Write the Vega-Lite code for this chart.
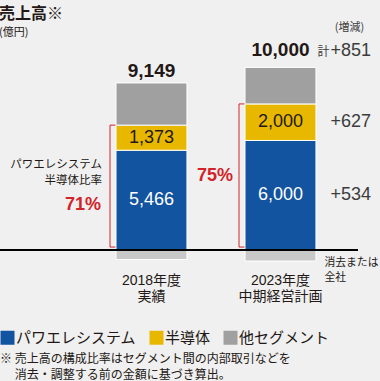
{
  "$schema": "https://vega.github.io/schema/vega-lite/v6.json",
  "width": 358,
  "height": 221,
  "autosize": {"type": "none"},
  "padding": {"left": 0, "top": 40, "right": 22, "bottom": 120},
  "background": "#f0f0f0",
  "config": {"view": {"stroke": null}, "font": "Liberation Sans, Noto Sans CJK JP"},
  "title": {
    "text": "売上高※",
    "subtitle": "(億円)",
    "anchor": "start",
    "font": "Noto Sans CJK JP",
    "fontSize": 16,
    "fontWeight": "bold",
    "color": "#231815",
    "subtitleFont": "Noto Sans CJK JP",
    "subtitleFontSize": 11,
    "subtitleColor": "#231815",
    "subtitlePadding": 5,
    "offset": -16
  },
  "datasets": {
    "segments": [
      {"cat": "2018年度 実績", "seg": "パワエレシステム", "value": 5466, "ord": 1, "label": "5,466", "delta": "", "note": ""},
      {"cat": "2018年度 実績", "seg": "半導体", "value": 1373, "ord": 2, "label": "1,373", "delta": "", "note": ""},
      {"cat": "2018年度 実績", "seg": "他セグメント", "value": 2310, "ord": 3, "label": "", "delta": "", "note": ""},
      {"cat": "2018年度 実績", "seg": "消去または全社", "value": -520, "ord": 4, "label": "", "delta": "", "note": ""},
      {"cat": "2023年度 中期経営計画", "seg": "パワエレシステム", "value": 6000, "ord": 1, "label": "6,000", "delta": "+534", "note": ""},
      {"cat": "2023年度 中期経営計画", "seg": "半導体", "value": 2000, "ord": 2, "label": "2,000", "delta": "+627", "note": ""},
      {"cat": "2023年度 中期経営計画", "seg": "他セグメント", "value": 2000, "ord": 3, "label": "", "delta": "", "note": ""},
      {"cat": "2023年度 中期経営計画", "seg": "消去または全社", "value": -600, "ord": 4, "label": "", "delta": "", "note": "消去または\n全社"}
    ],
    "totals": [
      {"cat": "2018年度 実績", "total": 9149, "label": "9,149", "delta": ""},
      {"cat": "2023年度 中期経営計画", "total": 10000, "label": "10,000", "delta": "+851"}
    ],
    "ratio": [
      {"cat": "2018年度 実績", "top": 6839, "ratio": "71%"},
      {"cat": "2023年度 中期経営計画", "top": 8000, "ratio": "75%"}
    ]
  },
  "layer": [
    {
      "data": {"name": "ratio"},
      "mark": {"type": "bar", "fill": "transparent", "stroke": "#d2232a", "strokeWidth": 1, "xOffset": -6, "y2Offset": -3},
      "encoding": {
        "x": {"field": "cat", "type": "nominal", "scale": {"paddingInner": 0.45, "paddingOuter": 0.6126, "align": 0.734}, "axis": {"title": null, "domain": false, "ticks": false, "tickSize": 0, "labelPadding": 12, "labelFontSize": 14, "labelColor": "#231815", "labelExpr": "split(datum.label, ' ')", "labelLineHeight": 16, "labelAngle": 0, "labelBaseline": "top", "labelFont": "Liberation Sans, Noto Sans CJK JP"}},
        "y": {"field": "top", "type": "quantitative", "scale": {"domain": [-600, 11500], "nice": false, "zero": false}, "axis": null},
        "y2": {"datum": 0}
      }
    },
    {
      "data": {"name": "segments"},
      "mark": {"type": "bar", "stroke": "#ffffff", "strokeWidth": 1},
      "encoding": {
        "x": {"field": "cat", "type": "nominal", "scale": {"paddingInner": 0.45, "paddingOuter": 0.6126, "align": 0.734}, "axis": {"title": null, "domain": false, "ticks": false, "tickSize": 0, "labelPadding": 12, "labelFontSize": 14, "labelColor": "#231815", "labelExpr": "split(datum.label, ' ')", "labelLineHeight": 16, "labelAngle": 0, "labelBaseline": "top", "labelFont": "Liberation Sans, Noto Sans CJK JP"}},
        "y": {"field": "value", "type": "quantitative", "stack": "zero", "scale": {"domain": [-600, 11500], "nice": false, "zero": false}, "axis": null},
        "order": {"field": "ord", "type": "quantitative"},
        "color": {
          "field": "seg",
          "type": "nominal",
          "scale": {"domain": ["パワエレシステム", "半導体", "他セグメント", "消去または全社"], "range": ["#1254a0", "#e8b800", "#a0a0a0", "#c8c8c8"]},
          "legend": {
            "values": ["パワエレシステム", "半導体", "他セグメント"],
            "title": ["※ 売上高の構成比率はセグメント間の内部取引などを", "\u200b\u3000 消去・調整する前の金額に基づき算出。"],
            "orient": "bottom",
            "direction": "horizontal",
            "titleOrient": "bottom",
            "titleAnchor": "start",
            "titleAlign": "left",
            "titleFont": "Noto Sans CJK JP",
            "titleFontSize": 12,
            "titleFontWeight": "normal",
            "titleColor": "#231815",
            "titleLineHeight": 16,
            "titlePadding": 8,
            "titleLimit": 400,
            "symbolType": "square",
            "symbolSize": 196,
            "symbolStrokeWidth": 0,
            "labelFont": "Noto Sans CJK JP",
            "labelFontSize": 15,
            "labelColor": "#231815",
            "labelOffset": 1,
            "labelLimit": 200,
            "columnPadding": 12,
            "offset": 27,
            "padding": 0,
            "encode": {"symbols": {"update": {"fill": {"signal": "datum.value === '他セグメント' ? '#808080' : scale('color', datum.value)"}}}}
          }
        }
      }
    },
    {
      "data": {"name": "segments"},
      "mark": {"type": "text", "fontSize": 18, "font": "Liberation Sans"},
      "encoding": {
        "x": {"field": "cat", "type": "nominal", "scale": {"paddingInner": 0.45, "paddingOuter": 0.6126, "align": 0.734}, "axis": {"title": null, "domain": false, "ticks": false, "tickSize": 0, "labelPadding": 12, "labelFontSize": 14, "labelColor": "#231815", "labelExpr": "split(datum.label, ' ')", "labelLineHeight": 16, "labelAngle": 0, "labelBaseline": "top", "labelFont": "Liberation Sans, Noto Sans CJK JP"}},
        "y": {"field": "value", "type": "quantitative", "stack": "zero", "bandPosition": 0.5, "scale": {"domain": [-600, 11500], "nice": false, "zero": false}, "axis": null},
        "detail": {"field": "seg"},
        "order": {"field": "ord", "type": "quantitative"},
        "text": {"field": "label"},
        "color": {"condition": {"test": "datum.seg === 'パワエレシステム'", "value": "#ffffff"}, "value": "#231815"}
      }
    },
    {
      "data": {"name": "segments"},
      "mark": {"type": "text", "fontSize": 18, "font": "Liberation Sans", "align": "left", "dx": 50, "color": "#3c3c3c"},
      "encoding": {
        "x": {"field": "cat", "type": "nominal", "scale": {"paddingInner": 0.45, "paddingOuter": 0.6126, "align": 0.734}, "axis": {"title": null, "domain": false, "ticks": false, "tickSize": 0, "labelPadding": 12, "labelFontSize": 14, "labelColor": "#231815", "labelExpr": "split(datum.label, ' ')", "labelLineHeight": 16, "labelAngle": 0, "labelBaseline": "top", "labelFont": "Liberation Sans, Noto Sans CJK JP"}},
        "y": {"field": "value", "type": "quantitative", "stack": "zero", "bandPosition": 0.5, "scale": {"domain": [-600, 11500], "nice": false, "zero": false}, "axis": null},
        "detail": {"field": "seg"},
        "order": {"field": "ord", "type": "quantitative"},
        "text": {"field": "delta"}
      }
    },
    {
      "data": {"name": "segments"},
      "transform": [{"filter": "datum.note !== ''"}],
      "mark": {"type": "text", "fontSize": 10.8, "font": "Noto Sans CJK JP", "align": "left", "baseline": "top", "dx": 44, "dy": -4, "lineBreak": "\n", "lineHeight": 15, "color": "#231815"},
      "encoding": {
        "x": {"field": "cat", "type": "nominal", "scale": {"paddingInner": 0.45, "paddingOuter": 0.6126, "align": 0.734}, "axis": {"title": null, "domain": false, "ticks": false, "tickSize": 0, "labelPadding": 12, "labelFontSize": 14, "labelColor": "#231815", "labelExpr": "split(datum.label, ' ')", "labelLineHeight": 16, "labelAngle": 0, "labelBaseline": "top", "labelFont": "Liberation Sans, Noto Sans CJK JP"}},
        "y": {"field": "value", "type": "quantitative", "scale": {"domain": [-600, 11500], "nice": false, "zero": false}, "axis": null},
        "text": {"field": "note"}
      }
    },
    {
      "data": {"values": [{}]},
      "mark": {"type": "rule", "color": "#000000", "strokeWidth": 2},
      "encoding": {
        "y": {"datum": 0, "type": "quantitative", "scale": {"domain": [-600, 11500], "nice": false, "zero": false}, "axis": null}
      }
    },
    {
      "data": {"name": "totals"},
      "transform": [{"filter": "datum.delta === ''"}],
      "mark": {"type": "text", "fontSize": 19, "fontWeight": "bold", "font": "Liberation Sans", "baseline": "alphabetic", "dy": -6, "color": "#231815"},
      "encoding": {
        "x": {"field": "cat", "type": "nominal", "scale": {"paddingInner": 0.45, "paddingOuter": 0.6126, "align": 0.734}, "axis": {"title": null, "domain": false, "ticks": false, "tickSize": 0, "labelPadding": 12, "labelFontSize": 14, "labelColor": "#231815", "labelExpr": "split(datum.label, ' ')", "labelLineHeight": 16, "labelAngle": 0, "labelBaseline": "top", "labelFont": "Liberation Sans, Noto Sans CJK JP"}},
        "y": {"field": "total", "type": "quantitative", "scale": {"domain": [-600, 11500], "nice": false, "zero": false}, "axis": null},
        "text": {"field": "label"}
      }
    },
    {
      "data": {"name": "totals"},
      "transform": [{"filter": "datum.delta !== ''"}],
      "layer": [
        {"mark": {"type": "text", "fontSize": 19, "fontWeight": "bold", "font": "Liberation Sans", "baseline": "alphabetic", "dy": -11, "color": "#231815"}, "encoding": {"text": {"field": "label"}}},
        {"mark": {"type": "text", "fontSize": 18, "font": "Liberation Sans", "baseline": "alphabetic", "align": "left", "dx": 50, "dy": -11, "color": "#3c3c3c"}, "encoding": {"text": {"field": "delta"}}},
        {"mark": {"type": "text", "fontSize": 12, "font": "Noto Sans CJK JP", "baseline": "alphabetic", "align": "right", "dx": 49, "dy": -11, "color": "#3c3c3c", "text": "計"}},
        {"mark": {"type": "text", "fontSize": 11, "font": "Noto Sans CJK JP", "baseline": "alphabetic", "align": "center", "dx": 69, "dy": -36, "color": "#3c3c3c", "text": "(増減)"}}
      ],
      "encoding": {
        "x": {"field": "cat", "type": "nominal", "scale": {"paddingInner": 0.45, "paddingOuter": 0.6126, "align": 0.734}, "axis": {"title": null, "domain": false, "ticks": false, "tickSize": 0, "labelPadding": 12, "labelFontSize": 14, "labelColor": "#231815", "labelExpr": "split(datum.label, ' ')", "labelLineHeight": 16, "labelAngle": 0, "labelBaseline": "top", "labelFont": "Liberation Sans, Noto Sans CJK JP"}},
        "y": {"field": "total", "type": "quantitative", "scale": {"domain": [-600, 11500], "nice": false, "zero": false}, "axis": null}
      }
    },
    {
      "data": {"name": "ratio"},
      "transform": [{"filter": "datum.ratio === '71%'"}],
      "layer": [
        {"mark": {"type": "text", "fontSize": 11.5, "font": "Noto Sans CJK JP", "align": "right", "baseline": "alphabetic", "dx": -49.5, "dy": 43, "lineBreak": "\n", "lineHeight": 16, "color": "#231815", "text": "パワエレシステム\n半導体比率"}},
        {"mark": {"type": "text", "fontSize": 18, "fontWeight": "bold", "font": "Liberation Sans", "align": "right", "baseline": "alphabetic", "dx": -50.5, "dy": 85, "color": "#d2232a"}, "encoding": {"text": {"field": "ratio"}}}
      ],
      "encoding": {
        "x": {"field": "cat", "type": "nominal", "scale": {"paddingInner": 0.45, "paddingOuter": 0.6126, "align": 0.734}, "axis": {"title": null, "domain": false, "ticks": false, "tickSize": 0, "labelPadding": 12, "labelFontSize": 14, "labelColor": "#231815", "labelExpr": "split(datum.label, ' ')", "labelLineHeight": 16, "labelAngle": 0, "labelBaseline": "top", "labelFont": "Liberation Sans, Noto Sans CJK JP"}},
        "y": {"field": "top", "type": "quantitative", "scale": {"domain": [-600, 11500], "nice": false, "zero": false}, "axis": null}
      }
    },
    {
      "data": {"name": "ratio"},
      "transform": [{"filter": "datum.ratio === '75%'"}],
      "mark": {"type": "text", "fontSize": 18, "fontWeight": "bold", "font": "Liberation Sans", "align": "right", "baseline": "alphabetic", "dx": -47.5, "dy": 77, "color": "#d2232a"},
      "encoding": {
        "x": {"field": "cat", "type": "nominal", "scale": {"paddingInner": 0.45, "paddingOuter": 0.6126, "align": 0.734}, "axis": {"title": null, "domain": false, "ticks": false, "tickSize": 0, "labelPadding": 12, "labelFontSize": 14, "labelColor": "#231815", "labelExpr": "split(datum.label, ' ')", "labelLineHeight": 16, "labelAngle": 0, "labelBaseline": "top", "labelFont": "Liberation Sans, Noto Sans CJK JP"}},
        "y": {"field": "top", "type": "quantitative", "scale": {"domain": [-600, 11500], "nice": false, "zero": false}, "axis": null},
        "text": {"field": "ratio"}
      }
    }
  ]
}
